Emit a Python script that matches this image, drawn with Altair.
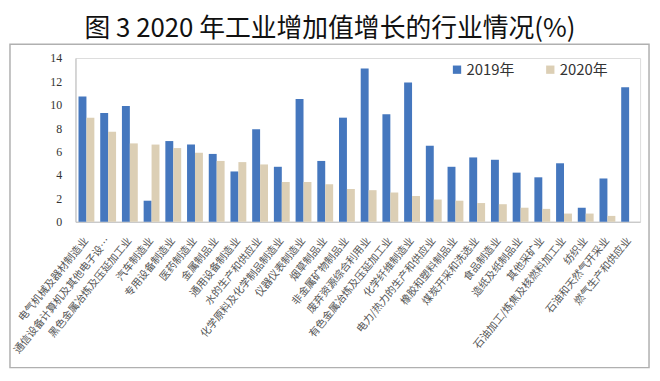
import altair as alt
import pandas as pd

categories = [
    "电气机械及器材制造业", "通信设备计算机及其他电子设…", "黑色金属冶炼及压延加工业",
    "汽车制造业", "专用设备制造业", "医药制造业", "金属制品业", "通用设备制造业",
    "水的生产和供应业", "化学原料及化学制品制造业", "仪器仪表制造业", "烟草制品业",
    "非金属矿物制品业", "废弃资源综合利用业", "有色金属冶炼及压延加工业", "化学纤维制造业",
    "电力/热力的生产和供应业", "橡胶和塑料制品业", "煤炭开采和洗选业", "食品制造业",
    "造纸及纸制品业", "其他采矿业", "石油加工/炼焦及核燃料加工业", "纺织业",
    "石油和天然气开采业", "燃气生产和供应业",
]
values_2019 = [10.7, 9.3, 9.9, 1.8, 6.9, 6.6, 5.8, 4.3, 7.9, 4.7, 10.5, 5.2,
               8.9, 13.1, 9.2, 11.9, 6.5, 4.7, 5.5, 5.3, 4.2, 3.8, 5.0, 1.2, 3.7, 11.5]
values_2020 = [8.9, 7.7, 6.7, 6.6, 6.3, 5.9, 5.2, 5.1, 4.9, 3.4, 3.4, 3.2,
               2.8, 2.7, 2.5, 2.2, 1.9, 1.8, 1.6, 1.5, 1.2, 1.1, 0.7, 0.7, 0.5, 0.0]
series = ["2019年", "2020年"]
y_ticks = [0, 2, 4, 6, 8, 10, 12, 14]

rows = []
for c, a, b in zip(categories, values_2019, values_2020):
    rows.append({"行业": c, "年份": series[0], "增速": a})
    rows.append({"行业": c, "年份": series[1], "增速": b})
df = pd.DataFrame(rows)

W, H = 569, 165

bars = alt.Chart(df).mark_bar().encode(
    x=alt.X("行业:N", sort=categories, title=None,
            scale=alt.Scale(paddingInner=0.27, paddingOuter=0.14),
            axis=alt.Axis(labelAngle=-51, labelAlign="right", labelBaseline="middle",
                          labelPadding=17, labelFontSize=10.5, labelColor="#555555",
                          labelFont="Noto Sans CJK SC", labelLimit=200,
                          ticks=False, domainColor="#bfbfbf", labelOverlap=False)),
    xOffset=alt.XOffset("年份:N", sort=series),
    y=alt.Y("增速:Q", title=None,
            scale=alt.Scale(domain=[0, 14], nice=False),
            axis=alt.Axis(values=y_ticks, grid=False, ticks=False, domainColor="#bfbfbf",
                          labelFont="Liberation Serif", labelFontSize=12,
                          labelColor="#333333", labelPadding=14)),
    color=alt.Color("年份:N", sort=series,
                    scale=alt.Scale(domain=series, range=["#4577be", "#dccfb5"]),
                    legend=alt.Legend(orient="none", legendX=377, legendY=4,
                                      direction="horizontal", title=None,
                                      symbolType="square", symbolSize=70,
                                      symbolStrokeWidth=0,
                                      labelFont="Noto Sans CJK SC", labelFontSize=15,
                                      labelColor="#333333", columnPadding=28,
                                      labelOffset=2)),
)

border = alt.Chart(pd.DataFrame({"k": [0]})).mark_rect(
    fill="transparent", stroke="#b0b0b0", strokeWidth=1.5
).encode(
    x=alt.value(-66), x2=alt.value(578), y=alt.value(-14), y2=alt.value(312)
)

chart = alt.layer(border, bars).properties(
    width=W, height=H,
    title=alt.TitleParams("图 3 2020 年工业增加值增长的行业情况(%)",
                          font="Noto Sans CJK SC", fontSize=26, fontWeight="normal",
                          color="#111111", anchor="middle", frame="group",
                          dx=-28, offset=1),
    autosize=alt.AutoSizeParams(type="none"),
    padding={"left": 68, "top": 49, "right": 12, "bottom": 150},
).configure_view(stroke=None).configure(background="white")

chart.save("out.html", embed_options={"renderer": "svg", "actions": False})
